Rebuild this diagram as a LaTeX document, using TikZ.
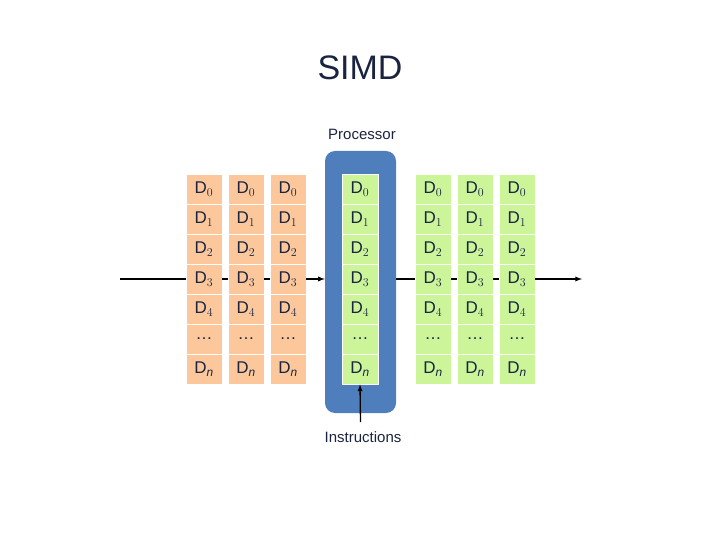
\documentclass[tikz,border=0pt]{standalone}
\usepackage{fontspec}
\setmainfont{Liberation Sans}
\begin{document}
\begin{tikzpicture}[x=1pt,y=-1pt,
  cell/.style={minimum width=36pt,minimum height=30pt,inner sep=0pt,draw=white,line width=0.8pt,text=txt,font=\fontsize{17}{17}\selectfont},
  org/.style={cell,fill=orgc},
  grn/.style={cell,fill=grnc},
  link/.style={line width=1.3pt,black}]
\definecolor{orgc}{HTML}{FCC89B}
\definecolor{grnc}{HTML}{CCF59A}
\definecolor{blu}{HTML}{4E7EBC}
\definecolor{txt}{HTML}{1A2440}
\useasboundingbox (0,0) rectangle (720,540);
\node[text=txt,font=\fontsize{34}{34}\selectfont] (title) at (360,68) {SIMD};
\node[text=txt,font=\fontsize{15}{15}\selectfont] (proc) at (362,134) {Processor};
\node[draw=none,fill=blu,rounded corners=10pt,minimum width=71pt,minimum height=262pt,inner sep=0pt] (cpu) at (360.5,282) {};
\def\labs{{"D$_0$","D$_1$","D$_2$","D$_3$","D$_4$","\dots","D$_{\mathit{n}}$"}}
\foreach \c/\x/\s in {a/204/org,b/246/org,c/288/org,p/360/grn,d/433/grn,e/475/grn,f/517/grn}{
  \foreach \r in {0,...,6}{
    \pgfmathsetmacro\yy{189+30*\r}
    \node[\s] (\c\r) at (\x,\yy) {\pgfmathparse{\labs[\r]}\pgfmathresult};
  }
}
\coordinate (lin) at (120,279);
\coordinate (rout) at (582,279);
\coordinate (ins) at (360.5,422);
\draw[link] (lin) -- (a3.west);
\draw[link] (a3.east) -- (b3.west);
\draw[link] (b3.east) -- (c3.west);
\draw[link,-latex] (c3.east) -- (cpu.west |- c3.east);
\draw[link] (cpu.east |- d3.west) -- (d3.west);
\draw[link] (d3.east) -- (e3.west);
\draw[link] (e3.east) -- (f3.west);
\draw[link,-latex] (f3.east) -- (rout);
\draw[link,-latex] (ins) -- (p6.south);
\node[text=txt,font=\fontsize{15}{15}\selectfont] (instr) at (363,437) {Instructions};
\end{tikzpicture}
\end{document}
